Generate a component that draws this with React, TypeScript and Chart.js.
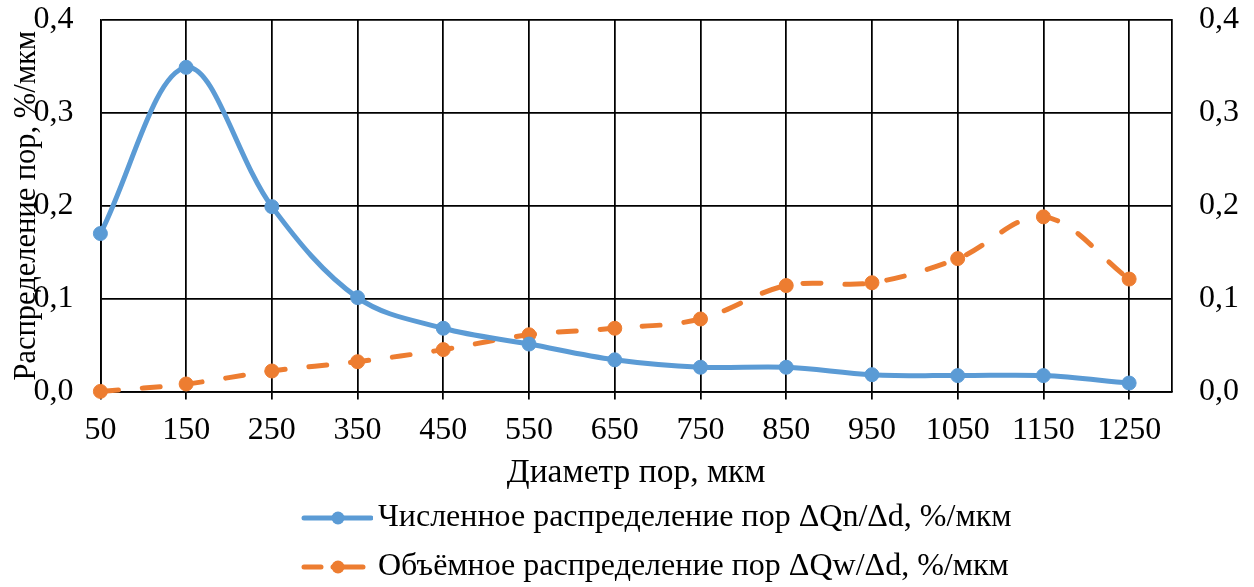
import React, { useEffect, useRef } from 'react';
import { Chart, registerables } from 'chart.js';

Chart.register(...registerables);

const diameters = [50, 150, 250, 350, 450, 550, 650, 750, 850, 950, 1050, 1150, 1250];
const numberDist = [0.170, 0.349, 0.199, 0.101, 0.068, 0.051, 0.034, 0.026, 0.026, 0.018, 0.017, 0.017, 0.009];
const volumeDist = [0.000, 0.008, 0.022, 0.032, 0.045, 0.061, 0.068, 0.078, 0.114, 0.117, 0.143, 0.188, 0.121];
const seriesLabels = [
  'Численное распределение пор ΔQn/Δd, %/мкм',
  'Объёмное распределение пор ΔQw/Δd, %/мкм',
];
const xTitle = 'Диаметр пор, мкм';
const yTitle = 'Распределение пор, %/мкм';

const BLUE = '#5B9BD5';
const ORANGE = '#ED7D31';
const FAMILY = "'Liberation Serif', 'Times New Roman', serif";
const FONT = { family: FAMILY, size: 32, lineHeight: 1.2 };
const XTITLE_FONT = { family: FAMILY, size: 33.5, lineHeight: 1.2 };
const YTITLE_FONT = { family: FAMILY, size: 30.5, lineHeight: 1.2 };

// legend marker image (84 wide, centred 31px right of the item start => offset 11)
function makeMarker(color: string, dashed: boolean) {
  const c = document.createElement('canvas');
  c.width = 84;
  c.height = 16;
  const ctx = c.getContext('2d')!;
  const o = 11;
  ctx.strokeStyle = color;
  ctx.lineWidth = 5;
  ctx.lineCap = 'round';
  ctx.beginPath();
  if (dashed) {
    ctx.moveTo(o + 4, 8);
    ctx.lineTo(o + 21, 8);
    ctx.moveTo(o + 33, 8);
    ctx.lineTo(o + 63, 8);
  } else {
    ctx.moveTo(o + 4, 8);
    ctx.lineTo(o + 71, 8);
  }
  ctx.stroke();
  ctx.fillStyle = color;
  ctx.beginPath();
  ctx.arc(o + 38, 8, 6.5, 0, Math.PI * 2);
  ctx.fill();
  return c;
}

const legendShift = {
  id: 'legendShift',
  beforeDraw(chart: any) {
    const lg = chart.legend;
    if (lg) lg.left = 283;
  },
};

export default function App() {
  const ref = useRef<HTMLCanvasElement | null>(null);

  useEffect(() => {
    if (!ref.current) return;
    const markers = [makeMarker(BLUE, false), makeMarker(ORANGE, true)];
    const fmt = (v: any) => Number(v).toFixed(1).replace('.', ',');
    const chart = new Chart(ref.current, {
      type: 'line',
      data: {
        datasets: [
          {
            label: seriesLabels[0],
            data: diameters.map((x, i) => ({ x, y: numberDist[i] })),
            borderColor: BLUE,
            backgroundColor: BLUE,
            borderWidth: 5,
            borderCapStyle: 'round',
            pointRadius: 7,
            pointBackgroundColor: BLUE,
            pointBorderColor: BLUE,
            pointBorderWidth: 1,
            tension: 0.35,
            yAxisID: 'y',
            clip: false as any,
          },
          {
            label: seriesLabels[1],
            data: diameters.map((x, i) => ({ x, y: volumeDist[i] })),
            borderColor: ORANGE,
            backgroundColor: ORANGE,
            borderWidth: 5,
            borderCapStyle: 'round',
            borderDash: [18, 24],
            pointRadius: 7,
            pointBackgroundColor: ORANGE,
            pointBorderColor: ORANGE,
            pointBorderWidth: 1,
            tension: 0.35,
            yAxisID: 'y1',
            clip: false as any,
          },
        ],
      },
      options: {
        responsive: false,
        animation: false,
        layout: { padding: { top: 20, right: 15, left: 0, bottom: 0 } },
        scales: {
          x: {
            type: 'linear',
            min: 50,
            max: 1300,
            afterBuildTicks: (s: any) => {
              s.ticks = diameters.map((v) => ({ value: v }));
            },
            ticks: {
              callback: (v: any) => String(v),
              font: FONT,
              color: '#000',
              padding: 12,
              maxRotation: 0,
              autoSkip: false,
            },
            grid: { color: '#000', lineWidth: 1.75, drawTicks: true, tickLength: 8, tickColor: '#000' },
            border: { display: true, color: '#000', width: 1.75 },
            title: { display: true, text: xTitle, font: XTITLE_FONT, color: '#000', padding: { top: -9, bottom: -8 } },
          },
          y: {
            position: 'left',
            min: 0,
            max: 0.4,
            ticks: { stepSize: 0.1, callback: fmt, font: FONT, color: '#000', padding: 0 },
            grid: { color: '#000', lineWidth: 1.75, drawTicks: true, tickLength: 27, tickColor: 'rgba(0,0,0,0)' },
            border: { display: true, color: '#000', width: 1.75 },
            title: { display: true, text: yTitle, font: YTITLE_FONT, color: '#000', padding: { top: 8.2, bottom: -11.4 } },
          },
          y1: {
            position: 'right',
            min: 0,
            max: 0.4,
            ticks: { stepSize: 0.1, callback: fmt, font: FONT, color: '#000', padding: 0 },
            grid: { drawOnChartArea: false, drawTicks: true, tickLength: 27, tickColor: 'rgba(0,0,0,0)' },
            border: { display: true, color: '#000', width: 1.75 },
          },
        },
        plugins: {
          tooltip: { enabled: false },
          legend: {
            position: 'bottom',
            align: 'start',
            labels: {
              usePointStyle: true,
              pointStyleWidth: 62,
              padding: 17,
              font: FONT,
              color: '#000',
              generateLabels: (ch: any) => {
                const items = (Chart.defaults.plugins.legend.labels as any).generateLabels(ch);
                return items.map((it: any, i: number) => ({ ...it, pointStyle: markers[i], fontColor: '#000' }));
              },
            },
          },
        },
      } as any,
      plugins: [legendShift],
    });
    return () => chart.destroy();
  }, []);

  return (
    <div style={{ position: 'fixed', left: 0, top: 0, width: 1254, height: 587, overflow: 'hidden', background: '#fff' }}>
      <canvas ref={ref} width={1254} height={593} style={{ display: 'block' }} />
    </div>
  );
}
